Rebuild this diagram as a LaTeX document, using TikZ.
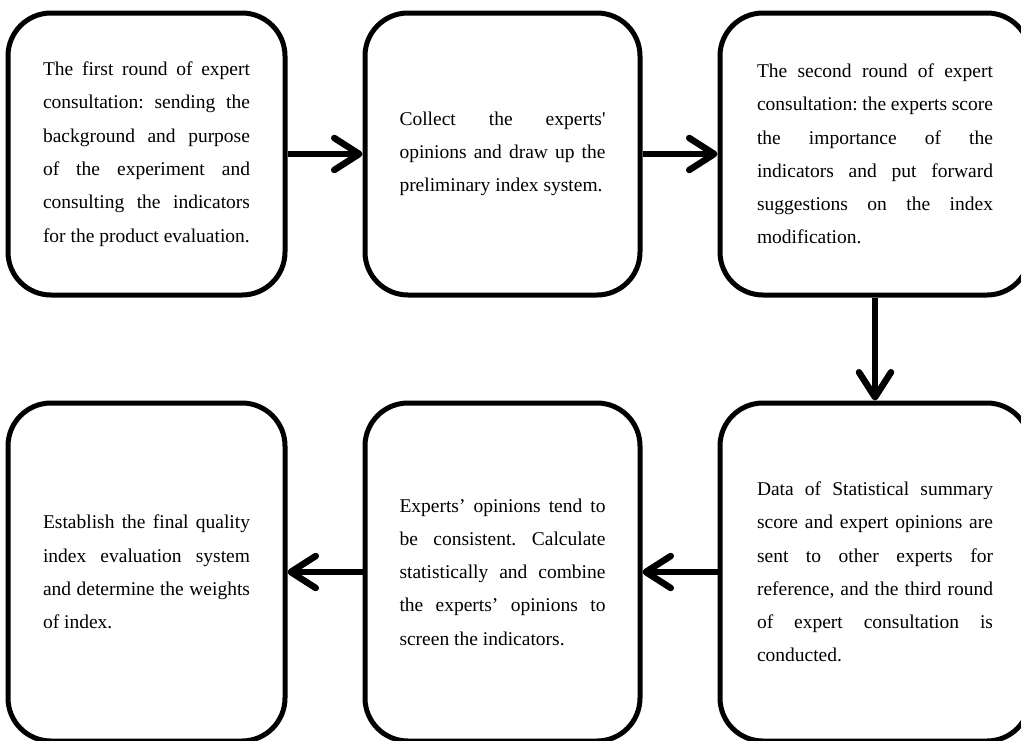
\documentclass[tikz,border=0pt]{standalone}
\usepackage{fontspec}
\setmainfont{Liberation Serif}
\usetikzlibrary{arrows.meta}
\newcommand\jl[1]{\makebox[\linewidth][s]{#1}}
\newcommand\boxtext[2]{\parbox{#1}{\frenchspacing\fontsize{19.5}{33.3}\selectfont #2}}
\tikzset{
  stepbox/.style={draw=black, line width=5pt, rounded corners=43pt, rectangle,
    inner sep=0pt},
  flow/.style={line width=6.5pt, -{Straight Barb[length=25pt,width=32pt,round]}}
}
\begin{document}
\begin{tikzpicture}[x=1pt,y=1pt]
\clip (0,0) rectangle (1021,-740);
\fill[white] (0,0) rectangle (1021,-740);
% top row
\node[stepbox, minimum width=277pt, minimum height=282pt] (b1) at (146.5,-154)
 {\boxtext{207pt}{\jl{The first round of expert}\\ \jl{consultation: sending the}\\ \jl{background and purpose}\\ \jl{of the experiment and}\\ \jl{consulting the indicators}\\ \mbox{for the product evaluation.}}};
\node[stepbox, minimum width=275pt, minimum height=282pt] (b2) at (502.5,-154)
 {\boxtext{206pt}{\jl{Collect the experts\textquotesingle}\\ \jl{opinions and draw up the}\\ \mbox{preliminary index system.}}};
\node[stepbox, minimum width=310pt, minimum height=282pt] (b3) at (875,-154)
 {\boxtext{236pt}{\jl{The second round of expert}\\ \jl{consultation: the experts score}\\ \jl{the importance of the}\\ \jl{indicators and put forward}\\ \jl{suggestions on the index}\\ \mbox{modification.}}};
% bottom row
\node[stepbox, minimum width=310pt, minimum height=338pt] (b6) at (875,-572)
 {\boxtext{236pt}{\jl{Data of Statistical summary}\\ \jl{score and expert opinions are}\\ \jl{sent to other experts for}\\ \jl{reference, and the third round}\\ \jl{of expert consultation is}\\ \mbox{conducted.}}};
\node[stepbox, minimum width=275pt, minimum height=338pt] (b5) at (502.5,-572)
 {\boxtext{206pt}{\jl{Experts’ opinions tend to}\\ \jl{be consistent. Calculate}\\ \jl{statistically and combine}\\ \jl{the experts’ opinions to}\\ \mbox{screen the indicators.}}};
\node[stepbox, minimum width=277pt, minimum height=338pt] (b4) at (146.5,-572)
 {\boxtext{207pt}{\jl{Establish the final quality}\\ \jl{index evaluation system}\\ \jl{and determine the weights}\\ \mbox{of index.}}};
% connectors
\draw[flow] (b1.east) -- (b2.west);
\draw[flow] (b2.east) -- (b3.west);
\draw[flow] (b3.south) -- (b6.north);
\draw[flow] (b6.west) -- (b5.east);
\draw[flow] (b5.west) -- (b4.east);
\end{tikzpicture}
\end{document}
